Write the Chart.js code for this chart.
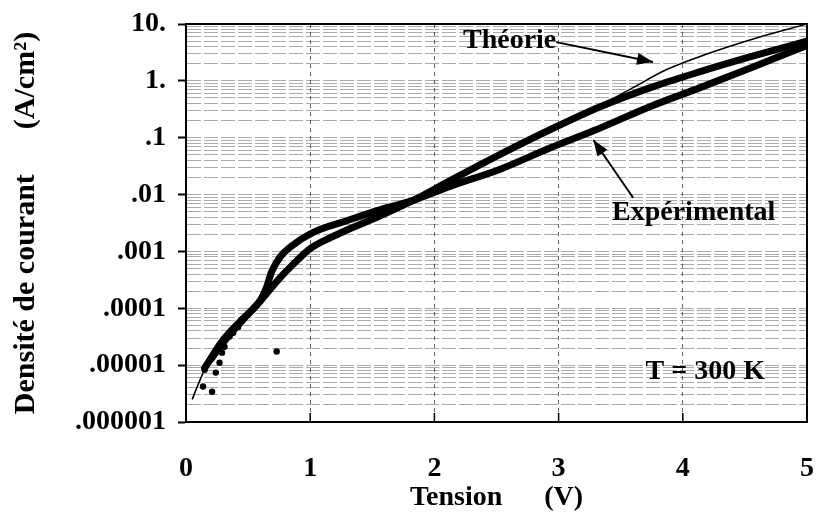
<!DOCTYPE html>
<html>
<head>
<meta charset="utf-8">
<script src="https://cdn.jsdelivr.net/npm/chart.js@4/dist/chart.umd.min.js"></script>
<style>
  html,body{margin:0;padding:0;background:#fff;}
  canvas{display:block;}
</style>
</head>
<body>
<canvas id="c" width="817" height="517"></canvas>
<script>
// ---- Data ----
// Theory curve (thin line): voltage (V) and current density (A/cm2)
const theoryV = [0.05,0.1,0.15,0.2,0.3,0.45,0.6,0.76,0.89,1.0,1.16,1.3,1.56,1.83,2.13,2.53,2.93,3.33,3.6,3.87,4.2,4.6,5.0];
const theoryJ = [2.5e-6,4.7e-6,8.3e-6,1.26e-5,2.5e-5,6.0e-5,1.35e-4,3.5e-4,6.8e-4,1.12e-3,1.74e-3,2.4e-3,4.2e-3,7.9e-3,0.0178,0.051,0.138,0.363,0.76,1.58,3.0,5.75,10];

// Thick experimental curve following the theory (upper band at high voltage)
const expAV = [0.2,0.3,0.45,0.6,0.76,0.89,1.0,1.16,1.3,1.56,1.83,2.13,2.53,2.93,3.33,3.74,4.14,4.54,5.0];
const expAJ = [1.26e-5,2.5e-5,6.0e-5,1.35e-4,3.5e-4,6.8e-4,1.12e-3,1.74e-3,2.4e-3,4.2e-3,7.9e-3,0.0178,0.051,0.138,0.347,0.76,1.45,2.63,5.0];

// Thick experimental curve with the knee near 0.7 V (lower band at high voltage)
const expBV = [0.15,0.3,0.45,0.6,0.65,0.69,0.76,0.84,1.02,1.3,1.56,1.83,2.13,2.53,2.93,3.28,3.74,4.14,4.54,5.0];
const expBJ = [8.9e-6,2.8e-5,6.3e-5,1.41e-4,2.4e-4,4.4e-4,8.1e-4,1.2e-3,2.14e-3,3.5e-3,5.4e-3,7.9e-3,0.0141,0.028,0.066,0.132,0.355,0.76,1.66,4.2];

// Scattered experimental points at low voltage
const dotsV = [0.137,0.21,0.15,0.24,0.27,0.29,0.31,0.35,0.38,0.42,0.45,0.73];
const dotsJ = [4.2e-6,3.4e-6,8.3e-6,7.4e-6,1.1e-5,1.66e-5,2.1e-5,3.2e-5,3.7e-5,4.7e-5,6.3e-5,1.74e-5];

// Axes
const xTicks = [0,1,2,3,4,5];
const yTickValues = [1e-6,1e-5,1e-4,1e-3,1e-2,1e-1,1,10];
const yTickLabels = ['.000001','.00001','.0001','.001','.01','.1','1.','10.'];

const xTitle = 'Tension      (V)';
const yTitle = 'Densité de courant      (A/cm²)';
const labelTheory = 'Théorie';
const labelExp = 'Expérimental';
const labelTemp = 'T = 300 K';

// ---- Chart ----
const FONT = "'Liberation Serif','Times New Roman',serif";
const pts = (xs, ys) => xs.map((v, i) => ({x: v, y: ys[i]}));
const isMajor = v => Math.abs(Math.log10(v) - Math.round(Math.log10(v))) < 1e-9;

const frame = {
  id: 'frame',
  afterDraw(chart) {
    const {ctx, chartArea: a, scales: {x}} = chart;
    ctx.save();
    ctx.strokeStyle = '#000';
    ctx.lineWidth = 2;
    ctx.strokeRect(a.left, a.top, a.right - a.left, a.bottom - a.top);
    ctx.lineWidth = 1.5;
    xTicks.forEach(v => {
      const px = x.getPixelForValue(v);
      ctx.beginPath(); ctx.moveTo(px, a.bottom); ctx.lineTo(px, a.bottom - 9); ctx.stroke();
    });
    ctx.restore();
  }
};

function arrow(ctx, x0, y0, x1, y1) {
  ctx.lineWidth = 2;
  ctx.beginPath(); ctx.moveTo(x0, y0); ctx.lineTo(x1, y1); ctx.stroke();
  const ang = Math.atan2(y1 - y0, x1 - x0);
  const L = 16, W = 6;
  ctx.beginPath();
  ctx.moveTo(x1, y1);
  ctx.lineTo(x1 - L * Math.cos(ang) + W * Math.sin(ang), y1 - L * Math.sin(ang) - W * Math.cos(ang));
  ctx.lineTo(x1 - L * Math.cos(ang) - W * Math.sin(ang), y1 - L * Math.sin(ang) + W * Math.cos(ang));
  ctx.closePath();
  ctx.fill();
}

const annot = {
  id: 'annot',
  afterDatasetsDraw(chart) {
    const {ctx, scales: {x, y}} = chart;
    ctx.save();
    ctx.fillStyle = '#000';
    ctx.strokeStyle = '#000';
    ctx.font = 'bold 28px ' + FONT;
    ctx.textBaseline = 'middle';
    ctx.textAlign = 'left';
    const t1x = x.getPixelForValue(2.23), t1y = y.getPixelForValue(5.0);
    ctx.fillText(labelTheory, t1x, t1y);
    const w1 = ctx.measureText(labelTheory).width;
    arrow(ctx, t1x + w1, t1y + 1, x.getPixelForValue(3.76), y.getPixelForValue(2.14));
    const t2x = x.getPixelForValue(3.43), t2y = y.getPixelForValue(0.0048);
    ctx.fillText(labelExp, t2x, t2y);
    arrow(ctx, x.getPixelForValue(3.6), t2y - 15, x.getPixelForValue(3.28), y.getPixelForValue(0.091));
    const t3x = x.getPixelForValue(3.7), t3y = y.getPixelForValue(7.6e-6);
    ctx.fillText(labelTemp, t3x, t3y);
    ctx.restore();
  }
};

const bg = {
  id: 'bg',
  beforeDraw(chart) {
    const ctx = chart.ctx;
    ctx.save(); ctx.fillStyle = '#fff'; ctx.fillRect(0, 0, chart.width, chart.height); ctx.restore();
  }
};

new Chart(document.getElementById('c'), {
  type: 'line',
  data: {
    datasets: [
      { label: 'dots', data: pts(dotsV, dotsJ), showLine: false, pointRadius: 3.2, pointBackgroundColor: '#000', pointBorderWidth: 0, borderColor: '#000' },
      { label: 'expB', data: pts(expBV, expBJ), borderColor: '#000', borderWidth: 7, pointRadius: 0, cubicInterpolationMode: 'monotone', borderCapStyle: 'round', borderJoinStyle: 'round' },
      { label: 'expA', data: pts(expAV, expAJ), borderColor: '#000', borderWidth: 7, pointRadius: 0, cubicInterpolationMode: 'monotone', borderCapStyle: 'round', borderJoinStyle: 'round' },
      { label: 'theory', data: pts(theoryV, theoryJ), borderColor: '#000', borderWidth: 1.6, pointRadius: 0, cubicInterpolationMode: 'monotone' }
    ]
  },
  options: {
    responsive: false,
    animation: false,
    layout: { padding: { top: 24, right: 10, bottom: 0, left: 0 } },
    plugins: { legend: { display: false }, tooltip: { enabled: false } },
    scales: {
      x: {
        type: 'linear', min: 0, max: 5,
        afterBuildTicks: s => { s.ticks = xTicks.map(v => ({value: v})); },
        afterFit: s => { s.height = 95; s.paddingLeft = 0; s.paddingRight = 0; },
        ticks: { color: '#000', font: { family: FONT, size: 28, weight: 'bold' }, padding: 30, maxRotation: 0 },
        grid: { color: 'rgba(0,0,0,0.6)', lineWidth: 1, drawTicks: false, tickLength: 0, borderDash: [4, 4] },
        border: { display: true, color: '#000', width: 2, dash: [4, 4] },
        title: { display: true, text: xTitle, color: '#000', font: { family: FONT, size: 28, weight: 'bold' }, padding: { top: 0, bottom: 2 } }
      },
      y: {
        type: 'logarithmic', min: 1e-6, max: 10,
        afterBuildTicks: s => {
          const t = [];
          yTickValues.forEach((d, i) => {
            t.push({value: d});
            if (i < yTickValues.length - 1) for (let m = 2; m <= 9; m++) t.push({value: d * m});
          });
          s.ticks = t;
        },
        afterFit: s => { s.width = 186; s.paddingTop = 0; s.paddingBottom = 0; },
        ticks: {
          autoSkip: false, color: '#000', padding: 12,
          font: { family: FONT, size: 28, weight: 'bold' },
          callback: v => { const i = yTickValues.findIndex(d => Math.abs(d - v) / d < 1e-9); return i >= 0 ? yTickLabels[i] : ''; }
        },
        grid: {
          color: 'rgba(0,0,0,0.33)', lineWidth: 1, tickLength: 8,
          tickColor: c => (c.tick && isMajor(c.tick.value)) ? '#000' : 'rgba(0,0,0,0)',
          tickWidth: 2
        },
        border: { display: true, color: '#000', width: 2, dash: [14, 3] },
        title: { display: true, text: yTitle, color: '#000', font: { family: FONT, size: 30, weight: 'bold' }, padding: { top: 8, bottom: 0 } }
      }
    }
  },
  plugins: [bg, frame, annot]
});
</script>
</body>
</html>
